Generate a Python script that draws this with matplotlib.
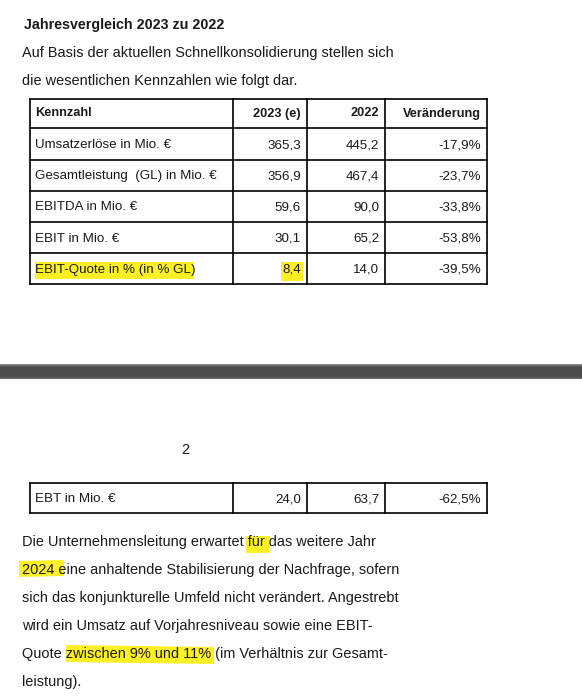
import matplotlib.pyplot as plt
from matplotlib.patches import Polygon
import numpy as np

plt.rcParams['font.family'] = ['Liberation Sans', 'DejaVu Sans']

# table data
headers = ["Kennzahl", "2023 (e)", "2022", "Veränderung"]
labels = ["Umsatzerlöse in Mio. €", "Gesamtleistung  (GL) in Mio. €", "EBITDA in Mio. €",
          "EBIT in Mio. €", "EBIT-Quote in % (in % GL)"]
v2023 = ["365,3", "356,9", "59,6", "30,1", "8,4"]
v2022 = ["445,2", "467,4", "90,0", "65,2", "14,0"]
change = ["-17,9%", "-23,7%", "-33,8%", "-53,8%", "-39,5%"]
ebt = ["EBT in Mio. €", "24,0", "63,7", "-62,5%"]

intro = ["Auf Basis der aktuellen Schnellkonsolidierung stellen sich",
         "die wesentlichen Kennzahlen wie folgt dar."]
para = ["Die Unternehmensleitung erwartet für das weitere Jahr",
        "2024 eine anhaltende Stabilisierung der Nachfrage, sofern",
        "sich das konjunkturelle Umfeld nicht verändert. Angestrebt",
        "wird ein Umsatz auf Vorjahresniveau sowie eine EBIT-",
        "Quote zwischen 9% und 11% (im Verhältnis zur Gesamt-",
        "leistung)."]

W, H = 582, 700
fig = plt.figure(figsize=(5.82, 7.0), dpi=100)
ax = fig.add_axes([0, 0, 1, 1])
ax.set_xlim(0, W)
ax.set_ylim(H, 0)
ax.axis('off')

ink = '#1a1a1a'
yel = '#ffee00'
fs = 10.45
tfs = 9.6

# highlighter strokes (drawn first)
def mark(x0, x1, y0, y1, slant=0):
    ax.add_patch(Polygon([(x0, y0 + slant), (x1, y0), (x1, y1), (x0, y1 + slant)],
                         closed=True, color=yel, alpha=0.85, lw=0, zorder=1))

mark(35, 194, 262, 279)
mark(281, 303, 262, 281)
mark(246, 269, 536, 553)
mark(19, 64, 560, 576, slant=1)
mark(66, 214, 647, 664, slant=-2)

ax.text(24, 25, "Jahresvergleich 2023 zu 2022", fontsize=10.3, fontweight='bold',
        color=ink, va='center', zorder=3)
for i, line in enumerate(intro):
    ax.text(22, 53 + i * 28, line, fontsize=fs, color=ink, va='center', zorder=3)

# table grid
xl, xr = 30, 487
cols = [xl, 233, 307, 385, xr]
rows = [99, 128, 160, 191, 222, 253, 284]
for y in rows:
    ax.plot([xl, xr], [y, y], color='black', lw=1.2, zorder=2)
for x in cols:
    ax.plot([x, x], [rows[0], rows[-1]], color='black', lw=1.2, zorder=2)

def row_text(y, cells, bold=False, size=tfs):
    w = 'bold' if bold else 'normal'
    ax.text(cols[0] + 5, y, cells[0], fontsize=size, fontweight=w, color=ink, va='center', zorder=3)
    for j in range(1, 4):
        ax.text(cols[j + 1] - 6, y, cells[j], fontsize=size, fontweight=w, color=ink,
                va='center', ha='right', zorder=3)

row_text((rows[0] + rows[1]) / 2, headers, bold=True, size=9.2)
for i in range(len(labels)):
    row_text((rows[i + 1] + rows[i + 2]) / 2 + 1,
             [labels[i], v2023[i], v2022[i], change[i]])

# page break bar
grad = np.concatenate([np.linspace(0.55, 0.3, 4), np.full(10, 0.3), np.linspace(0.3, 0.4, 4)])
ax.imshow(grad.reshape(-1, 1), cmap='gray', vmin=0, vmax=1, extent=[0, W, 379, 364],
          aspect='auto', zorder=2)

ax.text(181, 450, "2", fontsize=fs, color=ink, va='center', zorder=3)

# EBT row
ey0, ey1 = 483, 513
for y in (ey0, ey1):
    ax.plot([xl, xr], [y, y], color='black', lw=1.2, zorder=2)
for x in cols:
    ax.plot([x, x], [ey0, ey1], color='black', lw=1.2, zorder=2)
row_text((ey0 + ey1) / 2 + 1, ebt)

for i, line in enumerate(para):
    ax.text(22, 542 + i * 28, line, fontsize=fs, color=ink, va='center', zorder=3)

ax.set_xlim(0, W)
ax.set_ylim(H, 0)
fig.savefig("out.png", dpi=100)
